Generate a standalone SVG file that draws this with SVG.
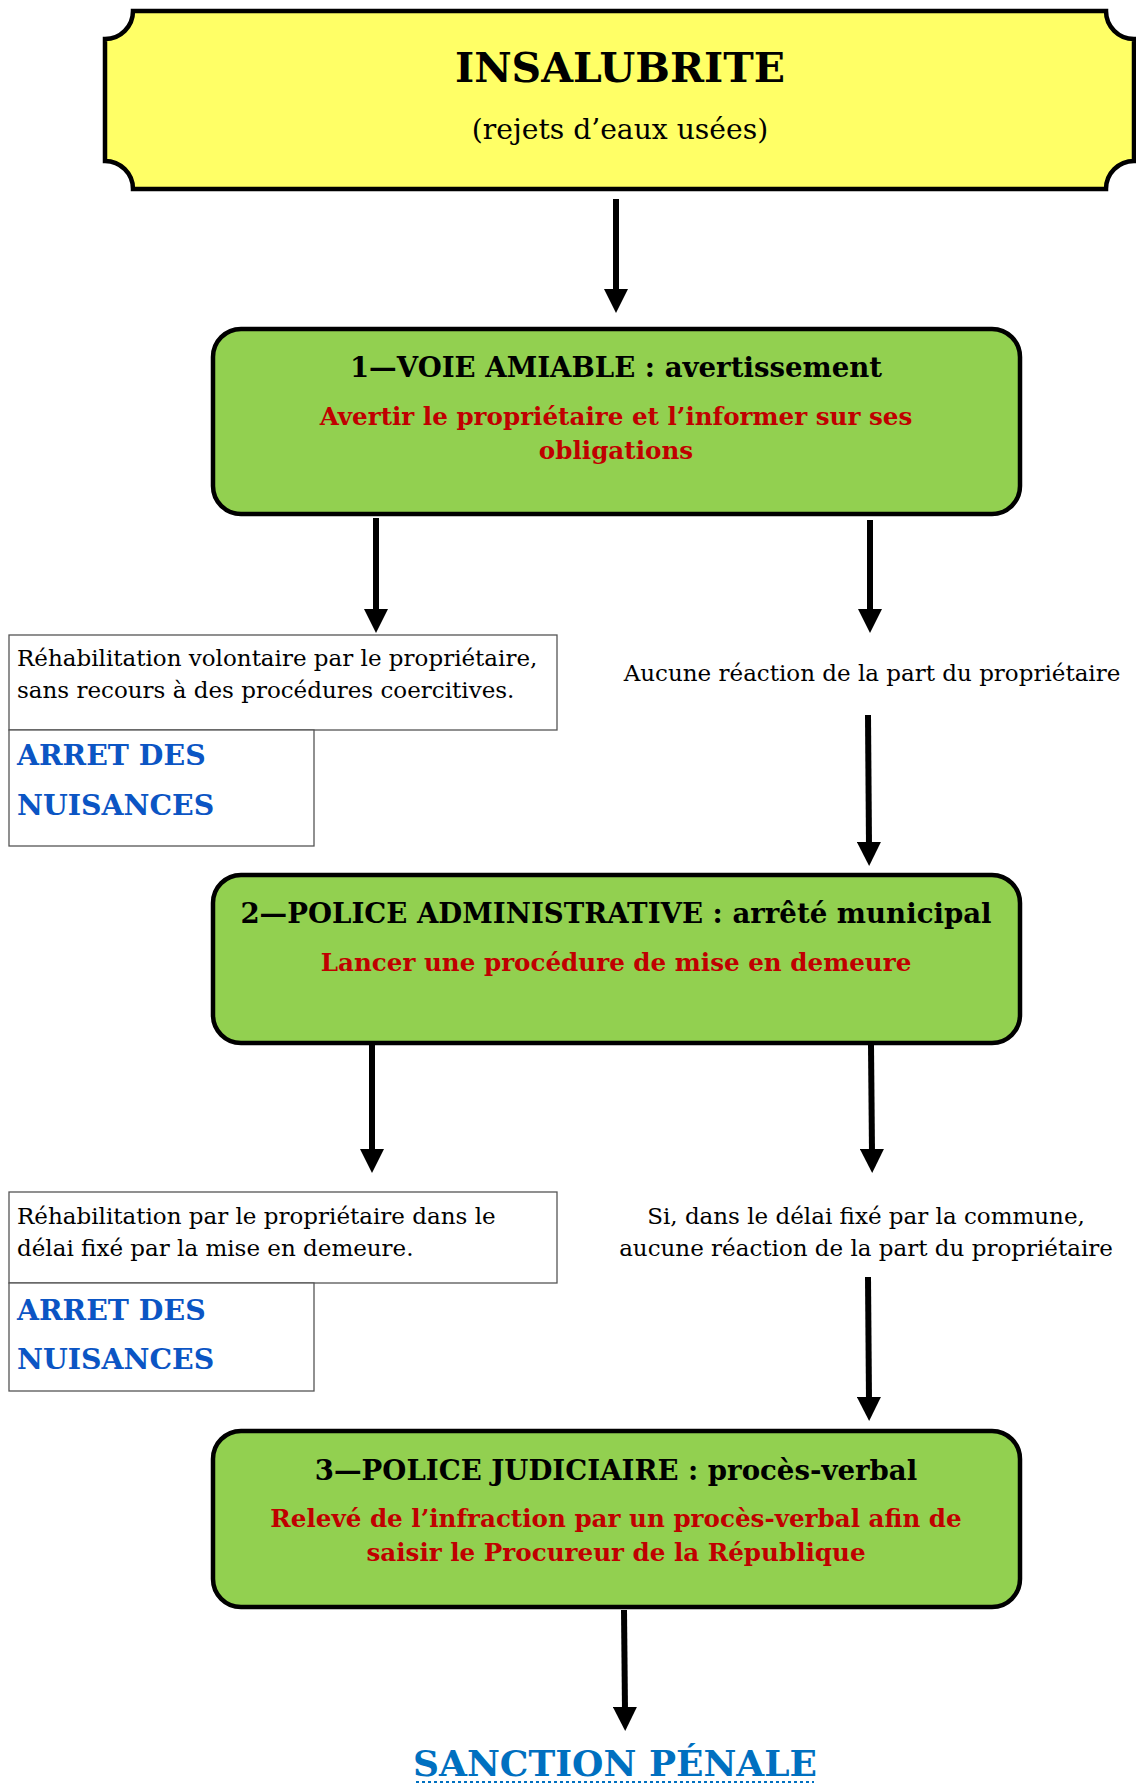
<svg xmlns="http://www.w3.org/2000/svg" width="1136" height="1784" viewBox="0 0 1136 1784">
<style>
.f{font-family:"DejaVu Serif","Liberation Serif",serif}
.green{fill:#92D050;stroke:#000;stroke-width:4.5}
.thin{fill:#fff;stroke:#555;stroke-width:1.3}
.hd{font-weight:bold;font-size:27.6px;fill:#000;text-anchor:middle}
.red{font-weight:bold;font-size:24.6px;fill:#C00000;text-anchor:middle}
.body{font-size:23px;fill:#000}
.blue{font-weight:bold;font-size:28.4px;fill:#0B55C4}
.conn{stroke:#000;stroke-width:6;fill:none;marker-end:url(#ah)}
</style>
<defs>
<marker id="ah" markerUnits="userSpaceOnUse" markerWidth="24" markerHeight="24" viewBox="0 0 24 24" refX="4" refY="12" orient="auto">
<path d="M0,0 L24,12 L0,24 Z" fill="#000"/>
</marker>
</defs>
<rect width="1136" height="1784" fill="#fff"/>
<g id="connectors">
<line class="conn" x1="616" y1="199" x2="616" y2="293"/>
<line class="conn" x1="376" y1="518" x2="376" y2="613"/>
<line class="conn" x1="870" y1="520" x2="870" y2="613"/>
<line class="conn" x1="868" y1="715" x2="869" y2="846"/>
<line class="conn" x1="372" y1="1045" x2="372" y2="1153"/>
<line class="conn" x1="871" y1="1045" x2="872" y2="1153"/>
<line class="conn" x1="868" y1="1277" x2="869" y2="1401"/>
<line class="conn" x1="624" y1="1610" x2="625" y2="1711"/>
</g>
<g id="insalubrite">
<path d="M133,11 H1106 A28,28 0 0 0 1134,39 V161 A28,28 0 0 0 1106,189 H133 A28,28 0 0 0 105,161 V39 A28,28 0 0 0 133,11 Z" fill="#FFFF66" stroke="#000" stroke-width="4.5"/>
<text class="f" x="620" y="82" text-anchor="middle" font-weight="bold" font-size="41">INSALUBRITE</text>
<text class="f" x="620" y="139" text-anchor="middle" font-size="28.2">(rejets d’eaux usées)</text>
</g>
<g id="voie-amiable">
<rect class="green" x="213" y="329" width="807" height="185" rx="28"/>
<text class="f hd" x="616" y="377">1—VOIE AMIABLE : avertissement</text>
<text class="f red" x="616" y="425">Avertir le propriétaire et l’informer sur ses</text>
<text class="f red" x="616" y="459">obligations</text>
</g>
<g id="rehab-volontaire">
<rect class="thin" x="9" y="635" width="548" height="95"/>
<text class="f body" x="17" y="666">Réhabilitation volontaire par le propriétaire,</text>
<text class="f body" x="17" y="698">sans recours à des procédures coercitives.</text>
</g>
<g id="arret-1">
<rect class="thin" x="9" y="730" width="305" height="116" stroke="#222"/>
<text class="f blue" x="17" y="765">ARRET DES</text>
<text class="f blue" x="17" y="815">NUISANCES</text>
</g>
<g id="aucune-reaction">
<text class="f body" x="872" y="681" text-anchor="middle">Aucune réaction de la part du propriétaire</text>
</g>
<g id="police-admin">
<rect class="green" x="213" y="875" width="807" height="168" rx="28"/>
<text class="f hd" x="616" y="923">2—POLICE ADMINISTRATIVE : arrêté municipal</text>
<text class="f red" x="616" y="971">Lancer une procédure de mise en demeure</text>
</g>
<g id="rehab-delai">
<rect class="thin" x="9" y="1192" width="548" height="91"/>
<text class="f body" x="17" y="1224">Réhabilitation par le propriétaire dans le</text>
<text class="f body" x="17" y="1256">délai fixé par la mise en demeure.</text>
</g>
<g id="arret-2">
<rect class="thin" x="9" y="1283" width="305" height="108" stroke="#222"/>
<text class="f blue" x="17" y="1320">ARRET DES</text>
<text class="f blue" x="17" y="1369">NUISANCES</text>
</g>
<g id="si-delai">
<text class="f body" x="866" y="1224" text-anchor="middle">Si, dans le délai fixé par la commune,</text>
<text class="f body" x="866" y="1256" text-anchor="middle">aucune réaction de la part du propriétaire</text>
</g>
<g id="police-judiciaire">
<rect class="green" x="213" y="1431" width="807" height="176" rx="28"/>
<text class="f hd" x="616" y="1480">3—POLICE JUDICIAIRE : procès-verbal</text>
<text class="f red" x="616" y="1527">Relevé de l’infraction par un procès-verbal afin de</text>
<text class="f red" x="616" y="1561">saisir le Procureur de la République</text>
</g>
<g id="sanction">
<text class="f" x="615" y="1776" text-anchor="middle" font-weight="bold" font-size="36" fill="#0070C0">SANCTION PÉNALE</text>
<line x1="416" y1="1782" x2="814" y2="1782" stroke="#0070C0" stroke-width="2" stroke-dasharray="3,3"/>
</g>
</svg>
